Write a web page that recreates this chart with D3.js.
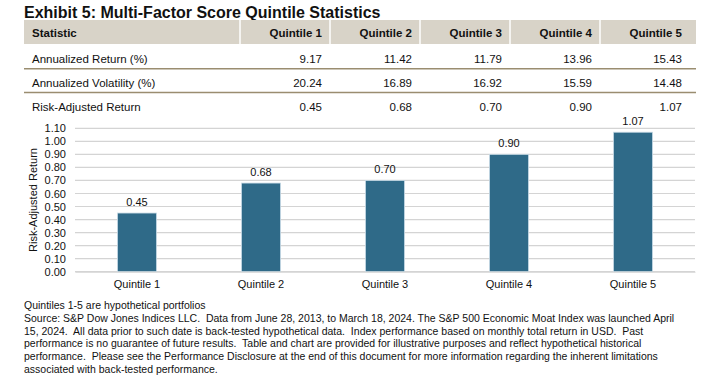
<!DOCTYPE html>
<html>
<head>
<meta charset="utf-8">
<script src="https://cdn.jsdelivr.net/npm/d3@7"></script>
<style>
  body { margin: 0; background: #fff; }
  svg text { font-family: "Liberation Sans", Arial, sans-serif; fill: #111; }
</style>
</head>
<body>
<div id="graphicContainer"></div>
<script>
var quintiles = ["Quintile 1", "Quintile 2", "Quintile 3", "Quintile 4", "Quintile 5"];
var statNames = ["Annualized Return (%)", "Annualized Volatility (%)", "Risk-Adjusted Return"];
var annReturn = [9.17, 11.42, 11.79, 13.96, 15.43];
var annVol = [20.24, 16.89, 16.92, 15.59, 14.48];
var riskAdj = [0.45, 0.68, 0.70, 0.90, 1.07];
var yTicks = [0, 0.1, 0.2, 0.3, 0.4, 0.5, 0.6, 0.7, 0.8, 0.9, 1.0, 1.1];
var notes = [
  "Quintiles 1-5 are hypothetical portfolios",
  "Source: S&P Dow Jones Indices LLC.  Data from June 28, 2013, to March 18, 2024. The S&P 500 Economic Moat Index was launched April",
  "15, 2024.  All data prior to such date is back-tested hypothetical data.  Index performance based on monthly total return in USD.  Past",
  "performance is no guarantee of future results.  Table and chart are provided for illustrative purposes and reflect hypothetical historical",
  "performance.  Please see the Performance Disclosure at the end of this document for more information regarding the inherent limitations",
  "associated with back-tested performance."
];

var width = 715,
	height = 376,
	barColor = "#2f6a88";

var svg = d3.select("#graphicContainer")
			.append("svg")
			.attr('width', width)
			.attr('height', height);

// title
svg.append('text')
	.attr('x', 24).attr('y', 17.5)
	.attr('font-size', '16px')
	.attr('font-weight', 'bold')
	.text("Exhibit 5: Multi-Factor Score Quintile Statistics");

// ---- table ----
var tableLeft = 24, tableRight = 696,
	colEdges = [240, 330, 420, 510, 600, 690],  // right edges used for number alignment
	rows = [annReturn, annVol, riskAdj];

var tbl = svg.append('g');

tbl.append('rect')
	.attr('x', tableLeft).attr('y', 20)
	.attr('width', tableRight - tableLeft).attr('height', 24)
	.attr('fill', '#d8d3c8');

tbl.selectAll('.sep')
	.data(colEdges.slice(0, 5))
	.enter().append('line')
	.attr('x1', function(d){ return d }).attr('x2', function(d){ return d })
	.attr('y1', 20).attr('y2', 44)
	.attr('stroke', '#fff').attr('stroke-width', 1.5);

tbl.append('text')
	.attr('x', 32).attr('y', 36.5)
	.attr('font-size', '11.5px').attr('font-weight', 'bold')
	.text("Statistic");

tbl.selectAll('.colHead')
	.data(quintiles)
	.enter().append('text')
	.attr('x', function(d, i){ return colEdges[i + 1] - 8 })
	.attr('y', 36.5)
	.attr('text-anchor', 'end')
	.attr('font-size', '11.5px').attr('font-weight', 'bold')
	.text(function(d){ return d });

rows.forEach(function(vals, r){
	var base = 63.3 + r * 23.7;
	tbl.append('text')
		.attr('x', 32).attr('y', base)
		.attr('font-size', '11.5px')
		.text(statNames[r]);

	tbl.selectAll('.cell' + r)
		.data(vals)
		.enter().append('text')
		.attr('x', function(d, i){ return colEdges[i + 1] - 8 })
		.attr('y', base)
		.attr('text-anchor', 'end')
		.attr('font-size', '11.5px')
		.text(function(d){ return d.toFixed(2) });

	if (r < rows.length - 1) {
		tbl.append('line')
			.attr('x1', tableLeft).attr('x2', tableRight)
			.attr('y1', base + 5.5).attr('y2', base + 5.5)
			.attr('stroke', '#9a8d70').attr('stroke-width', 1.5);
	}
});

// ---- chart ----
var x = d3.scaleBand()
	.domain(quintiles)
	.range([75, 695])
	.paddingInner(0.685)
	.paddingOuter(0.3425);

var y = d3.scaleLinear()
	.domain([0, 1.1])
	.range([271.7, 128.3]);

var g = svg.append('g');

g.selectAll('.grid')
	.data(yTicks)
	.enter().append('line')
	.attr('x1', 75).attr('x2', 695)
	.attr('y1', function(d){ return y(d) }).attr('y2', function(d){ return y(d) })
	.attr('stroke', '#d4d4d4').attr('stroke-width', 1.2);

var yAxis = g.append('g')
	.attr('transform', 'translate(75,0)')
	.call(d3.axisLeft(y).tickValues(yTicks).tickFormat(d3.format('.2f')).tickSize(0).tickPadding(9));
yAxis.select('.domain').remove();
yAxis.selectAll('text').attr('font-size', '11px').attr('fill', '#111')
	.style('font-family', '"Liberation Sans", Arial, sans-serif');

g.selectAll('.bar')
	.data(riskAdj)
	.enter().append('rect')
	.attr('x', function(d, i){ return x(quintiles[i]) })
	.attr('y', function(d){ return y(d) })
	.attr('width', x.bandwidth())
	.attr('height', function(d){ return y(0) - y(d) })
	.attr('fill', barColor)
	.attr('stroke', '#c9dbe6').attr('stroke-width', 0.8);

g.selectAll('.barLabel')
	.data(riskAdj)
	.enter().append('text')
	.attr('x', function(d, i){ return x(quintiles[i]) + x.bandwidth() / 2 })
	.attr('y', function(d){ return y(d) - 7.5 })
	.attr('text-anchor', 'middle')
	.attr('font-size', '11px')
	.text(function(d){ return d.toFixed(2) });

var xAxis = g.append('g')
	.attr('transform', 'translate(0,' + y(0) + ')')
	.call(d3.axisBottom(x).tickSize(0).tickPadding(9));
xAxis.select('.domain').attr('stroke', '#d4d4d4');
xAxis.selectAll('text').attr('font-size', '11px').attr('fill', '#111')
	.style('font-family', '"Liberation Sans", Arial, sans-serif');

g.append('text')
	.attr('transform', 'translate(37,200) rotate(-90)')
	.attr('text-anchor', 'middle')
	.attr('font-size', '11px')
	.text("Risk-Adjusted Return");

// ---- footnotes ----
svg.append('g').selectAll('text')
	.data(notes)
	.enter().append('text')
	.attr('x', 24)
	.attr('y', function(d, i){ return 309 + i * 12.8 })
	.attr('font-size', '10.5px')
	.attr('xml:space', 'preserve')
	.style('white-space', 'pre')
	.text(function(d){ return d });
</script>
</body>
</html>
